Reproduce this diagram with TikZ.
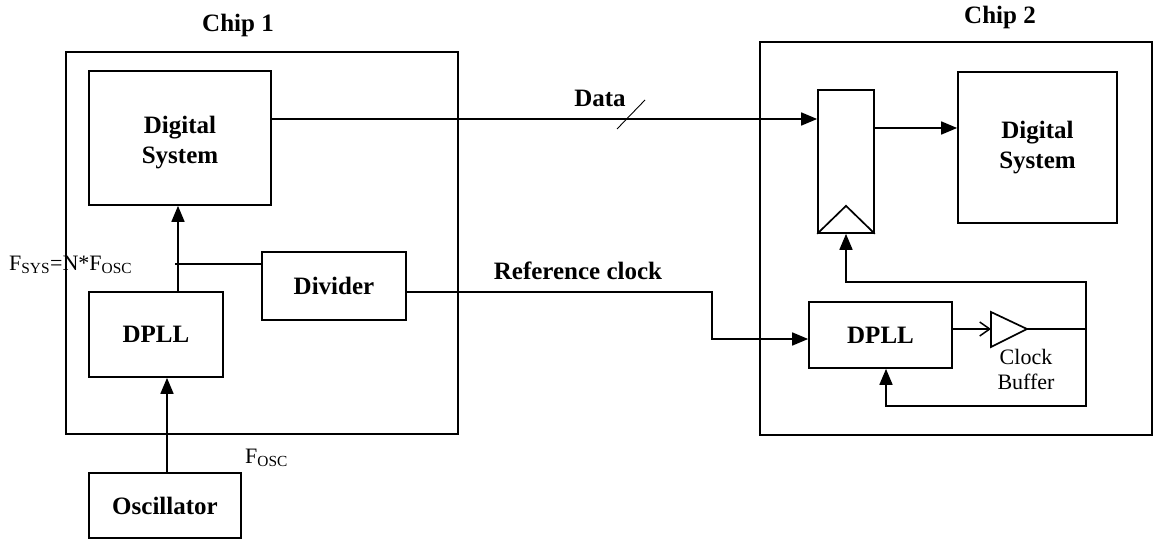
\documentclass[tikz,border=0pt]{standalone}
\usepackage{fontspec}
\setmainfont{Liberation Serif}
\usetikzlibrary{arrows.meta,calc}

\tikzset{
  wire/.style={line width=1.7pt},
  arr/.style={wire,-{Triangle[length=16pt,width=13pt]}},
  openarr/.style={wire,-{Straight Barb[length=10pt,width=14pt,line width=1.5pt]}},
  blk/.style={draw,line width=1.7pt,inner sep=0pt,align=center,
    font=\fontsize{25}{30}\selectfont\bfseries},
  chip/.style={draw,line width=1.7pt,inner sep=0pt},
  title/.style={font=\fontsize{25}{30}\selectfont\bfseries,inner sep=0pt,align=center},
  plain/.style={font=\fontsize{22}{25}\selectfont,inner sep=0pt,align=center},
}

\begin{document}
\begin{tikzpicture}[x=1pt,y=-1pt]
\useasboundingbox (0,0) rectangle (1158,540);

% chip outlines
\node[chip,minimum width=392pt,minimum height=382pt] (chip1) at (262,243) {};
\node[chip,minimum width=392pt,minimum height=393pt] (chip2) at (956,238.5) {};
\node[title] (t1) at (238,25) {Chip 1};
\node[title] (t2) at (1000,17) {Chip 2};

% chip 1 blocks
\node[blk,minimum width=182pt,minimum height=134pt] (ds1) at (180,138) {};
\node[title] (ds1t) at ($(ds1.center)+(0,5)$) {Digital\\System};
\node[blk,minimum width=144pt,minimum height=68pt] (div) at (334,286) {Divider};
\node[blk,minimum width=134pt,minimum height=85pt] (dpll1) at (156,334.5) {DPLL};
\node[blk,minimum width=152pt,minimum height=65pt] (osc) at (165,505.5) {Oscillator};

% chip 2 blocks
\node[draw,line width=1.7pt,inner sep=0pt,minimum width=56pt,minimum height=143pt] (reg) at (846,161.5) {};
\node[blk,minimum width=159pt,minimum height=151pt] (ds2) at (1037.5,147.5) {Digital\\System};
\node[blk,minimum width=143pt,minimum height=66pt] (dpll2) at (880.5,335) {DPLL};

% clock edge mark of the register
\draw[wire] (reg.south west) -- ($(reg.south)+(0,-28)$) -- (reg.south east);

% clock buffer
\coordinate (bufin) at (991,329);
\coordinate (bufout) at (1027,329);
\draw[wire] (991,312) -- (bufout) -- (991,347) -- cycle;
\node[plain] (cb) at (1026,369) {Clock\\Buffer};

% oscillator to DPLL, DPLL to digital system
\draw[arr] (osc.north -| 167,0) -- (dpll1.south -| 167,0);
\draw[arr] (dpll1.north -| 178,0) -- (ds1.south -| 178,0);
\coordinate (tap) at (175,264);
\draw[wire] (tap) -- (tap -| div.west);

% data bus
\coordinate (dout) at (ds1.east |- 0,119);
\draw[arr] (dout) -- (dout -| reg.west);
\draw[line width=0.9pt] (617,129) -- (645,100);
\node[title] (dl) at (600,98) {Data};

% register to digital system
\coordinate (qout) at (reg.east |- 0,128);
\draw[arr] (qout) -- (qout -| ds2.west);

% reference clock
\coordinate (rc) at (div.east |- 0,292);
\coordinate (rcin) at (dpll2.west |- 0,339);
\draw[arr] (rc) -- (712,292) -- (712,339) -- (rcin);
\node[title] (rl) at (578,271) {Reference clock};

% DPLL to buffer
\draw[openarr] (dpll2.east |- bufin) -- (bufin);

% buffered clock distribution
\coordinate (node1) at (1086,329);
\draw[wire] (bufout) -- (node1);
\draw[arr] (node1) -- (1086,282) -| (reg.south);
\coordinate (fb) at (886,406);
\draw[arr] (node1) -- (1086,406) -- (fb) -- (fb |- dpll2.south);

% frequency labels
\node[plain,anchor=base west] (fsys) at (9,270) {F\textsubscript{SYS}=N*F\textsubscript{OSC}};
\node[plain,anchor=base west] (fosc) at (245,463) {F\textsubscript{OSC}};
\end{tikzpicture}
\end{document}
